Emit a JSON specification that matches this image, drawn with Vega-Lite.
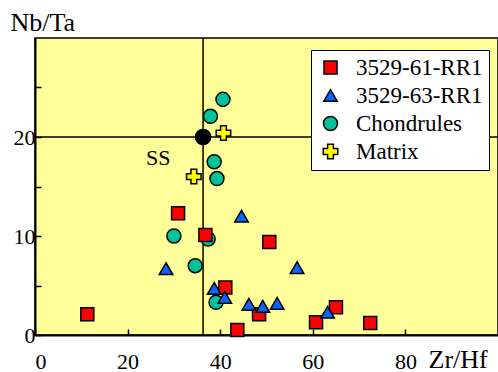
{
  "$schema": "https://vega.github.io/schema/vega-lite/v6.json",
  "width": 463,
  "height": 297,
  "autosize": {"type": "none"},
  "padding": {"left": 35, "top": 38, "right": 0, "bottom": 37},
  "background": "white",
  "config": {
    "font": "Liberation Serif",
    "text": {"font": "Liberation Serif"},
    "view": {"stroke": "black", "strokeWidth": 1.5, "fill": "#ffff99"},
    "legend": {"labelFont": "Liberation Serif"},
    "axisX": {"labelPadding": 22},
    "axis": {
      "grid": false,
      "domainColor": "black",
      "domainWidth": 2,
      "tickColor": "black",
      "tickWidth": 1.5,
      "tickSize": -6,
      "labelColor": "black",
      "labelFont": "Liberation Serif",
      "labelFontSize": 22,
      "titleFont": "Liberation Serif",
      "titleFontSize": 26,
      "titleFontWeight": "normal",
      "titleColor": "black"
    }
  },
  "datasets": {
    "pts": [
      {"group": "Chondrules", "zrhf": 40.6, "nbta": 23.8},
      {"group": "Chondrules", "zrhf": 37.9, "nbta": 22.1},
      {"group": "Chondrules", "zrhf": 38.7, "nbta": 17.5},
      {"group": "Chondrules", "zrhf": 39.3, "nbta": 15.8},
      {"group": "Chondrules", "zrhf": 30.0, "nbta": 10.0},
      {"group": "Chondrules", "zrhf": 37.4, "nbta": 9.7},
      {"group": "Chondrules", "zrhf": 34.6, "nbta": 7.0},
      {"group": "Chondrules", "zrhf": 39.1, "nbta": 3.3},
      {"group": "3529-61-RR1", "zrhf": 11.3, "nbta": 2.1},
      {"group": "3529-61-RR1", "zrhf": 30.9, "nbta": 12.3},
      {"group": "3529-61-RR1", "zrhf": 36.8, "nbta": 10.1},
      {"group": "3529-61-RR1", "zrhf": 50.6, "nbta": 9.4},
      {"group": "3529-61-RR1", "zrhf": 41.1, "nbta": 4.8},
      {"group": "3529-61-RR1", "zrhf": 48.4, "nbta": 2.1},
      {"group": "3529-61-RR1", "zrhf": 43.7, "nbta": 0.5},
      {"group": "3529-61-RR1", "zrhf": 60.7, "nbta": 1.3},
      {"group": "3529-61-RR1", "zrhf": 65.0, "nbta": 2.8},
      {"group": "3529-61-RR1", "zrhf": 72.4, "nbta": 1.2},
      {"group": "3529-63-RR1", "zrhf": 28.3, "nbta": 6.7},
      {"group": "3529-63-RR1", "zrhf": 38.7, "nbta": 4.7},
      {"group": "3529-63-RR1", "zrhf": 41.0, "nbta": 3.8},
      {"group": "3529-63-RR1", "zrhf": 44.6, "nbta": 12.0},
      {"group": "3529-63-RR1", "zrhf": 46.2, "nbta": 3.1},
      {"group": "3529-63-RR1", "zrhf": 49.2, "nbta": 2.9},
      {"group": "3529-63-RR1", "zrhf": 52.3, "nbta": 3.2},
      {"group": "3529-63-RR1", "zrhf": 56.6, "nbta": 6.8},
      {"group": "3529-63-RR1", "zrhf": 63.2, "nbta": 2.3},
      {"group": "Matrix", "zrhf": 40.7, "nbta": 20.4},
      {"group": "Matrix", "zrhf": 34.3, "nbta": 16.0}
    ],
    "ss": [{"zrhf": 36.3, "nbta": 20.0, "label": "SS", "lx": 26.6, "ly": 17.9}]
  },
  "encoding": {
    "x": {"type": "quantitative", "scale": {"domain": [0, 100], "nice": false, "zero": false}},
    "y": {"type": "quantitative", "scale": {"domain": [0, 30], "nice": false, "zero": false}}
  },
  "layer": [
    {
      "data": {"name": "ss"},
      "mark": {"type": "rule", "color": "black", "strokeWidth": 1.5},
      "encoding": {
        "x": {"field": "zrhf", "type": "quantitative", "scale": {"domain": [0, 100], "nice": false},
              "axis": {"values": [0, 20, 40, 60, 80], "labelPadding": 22, "title": "Zr/Hf", "titleX": 393, "titleY": 32, "titleAlign": "left", "titleBaseline": "alphabetic", "titleAnchor": null}}
      }
    },
    {
      "data": {"name": "ss"},
      "mark": {"type": "rule", "color": "black", "strokeWidth": 1.5},
      "encoding": {
        "y": {"field": "nbta", "type": "quantitative", "scale": {"domain": [0, 30], "nice": false},
              "axis": {"values": [0, 5, 10, 15, 20, 25], "labelExpr": "datum.value % 10 === 0 ? datum.label : ''", "labelPadding": 6, "title": "Nb/Ta", "titleAngle": 0, "titleX": -25, "titleY": -8, "titleAlign": "left", "titleBaseline": "alphabetic", "titleAnchor": null}}
      }
    },
    {
      "data": {"name": "pts"},
      "mark": {"type": "point", "filled": true, "stroke": "black", "strokeWidth": 1.5, "opacity": 1},
      "encoding": {
        "x": {"field": "zrhf", "type": "quantitative"},
        "y": {"field": "nbta", "type": "quantitative"},
        "color": {
          "field": "group", "type": "nominal",
          "scale": {"domain": ["3529-61-RR1", "3529-63-RR1", "Chondrules", "Matrix"], "range": ["#ff0000", "#0a64ff", "#00c39a", "#ffff00"]},
          "legend": {
            "title": null,
            "orient": "none",
            "legendX": 276,
            "legendY": 12,
            "fillColor": "white",
            "strokeColor": "black",
            "padding": 6,
            "symbolOffset": 2,
            "labelOffset": 14,
            "rowPadding": 4,
            "labelFont": "Liberation Serif",
            "labelFontSize": 23,
            "labelColor": "black",
            "symbolSize": 110,
            "symbolStrokeColor": "black",
            "symbolStrokeWidth": 1.5
          }
        },
        "shape": {
          "field": "group", "type": "nominal",
          "scale": {"domain": ["3529-61-RR1", "3529-63-RR1", "Chondrules", "Matrix"], "range": ["square", "triangle-up", "circle", "cross"]}
        },
        "size": {
          "field": "group", "type": "nominal",
          "scale": {"domain": ["3529-61-RR1", "3529-63-RR1", "Chondrules", "Matrix"], "range": [169, 210, 169, 160]},
          "legend": null
        }
      }
    },
    {
      "data": {"name": "ss"},
      "mark": {"type": "circle", "color": "black", "size": 280, "opacity": 1},
      "encoding": {
        "x": {"field": "zrhf", "type": "quantitative"},
        "y": {"field": "nbta", "type": "quantitative"}
      }
    },
    {
      "data": {"name": "ss"},
      "mark": {"type": "text", "font": "Liberation Serif", "fontSize": 22, "color": "black", "align": "center", "baseline": "middle"},
      "encoding": {
        "x": {"field": "lx", "type": "quantitative"},
        "y": {"field": "ly", "type": "quantitative"},
        "text": {"field": "label"}
      }
    }
  ]
}
